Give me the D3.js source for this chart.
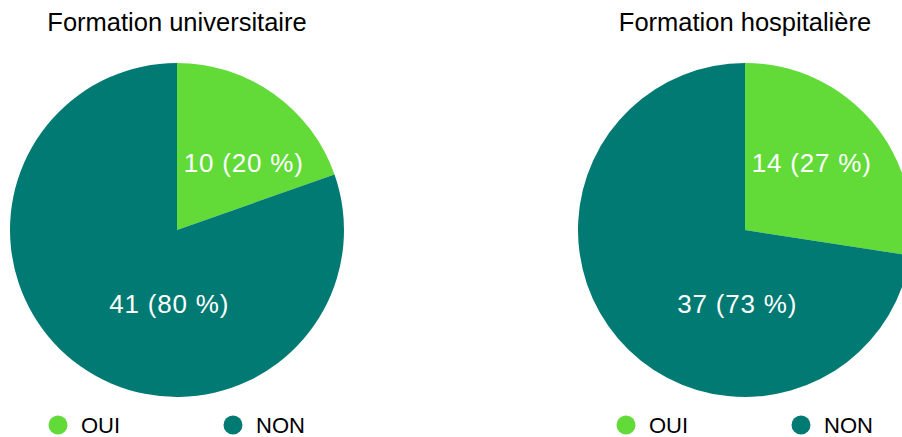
<!DOCTYPE html>
<html>
<head>
<meta charset="utf-8">
<script src="https://cdn.jsdelivr.net/npm/d3@7"></script>
<style>
  html, body { margin: 0; padding: 0; background: #fff; }
  svg { display: block; font-family: "Liberation Sans", Arial, Helvetica, sans-serif; }
</style>
</head>
<body>
<svg id="chart" width="902" height="437"></svg>
<script>
// Survey answers, one pie per question
const titles = ["Formation universitaire", "Formation hospitalière"];
const categories = ["OUI", "NON"];
const universitaire = [10, 41];
const hospitaliere = [14, 37];
const colors = ["#62da38", "#007a72"];

const seriesList = [universitaire, hospitaliere];

const svg = d3.select("#chart");
const radius = 167;
const centersX = [177, 745];
const centerY = 230;

const color = d3.scaleOrdinal().domain(categories).range(colors);
const pie = d3.pie().sort(null).value(d => d.value);
const arc = d3.arc().innerRadius(0).outerRadius(radius);

seriesList.forEach((series, i) => {
  const cx = centersX[i];
  const g = svg.append("g");

  // title
  g.append("text")
    .attr("x", cx)
    .attr("y", 31)
    .attr("text-anchor", "middle")
    .attr("font-size", 25.5)
    .attr("fill", "#000")
    .text(titles[i]);

  const data = categories.map((c, k) => ({ cat: c, value: series[k] }));
  const total = d3.sum(series);
  const arcs = pie(data);

  const pg = g.append("g").attr("transform", `translate(${cx},${centerY})`);
  pg.selectAll("path")
    .data(arcs)
    .join("path")
    .attr("d", arc)
    .attr("fill", d => color(d.data.cat));

  // value labels: minority slice towards its upper right, majority slice low and near the middle
  pg.selectAll("text.val")
    .data(arcs)
    .join("text")
    .attr("class", "val")
    .attr("text-anchor", "middle")
    .attr("dominant-baseline", "central")
    .attr("font-size", 26)
    .attr("letter-spacing", 0.8)
    .attr("fill", "#fff")
    .attr("transform", d => {
      const small = (d.endAngle - d.startAngle) < Math.PI;
      const a = small ? Math.PI / 4 : Math.PI * 186 / 180;
      const rr = small ? radius * 0.565 : radius * 0.447;
      return `translate(${rr * Math.sin(a)},${-rr * Math.cos(a)})`;
    })
    .text(d => `${d.data.value} (${Math.round(d.data.value / total * 100)} %)`);

  // legend
  const legendOffsets = [-119, 56];
  const lg = g.selectAll("g.leg")
    .data(categories)
    .join("g")
    .attr("class", "leg")
    .attr("transform", (c, k) => `translate(${cx + legendOffsets[k]},425)`);
  lg.append("circle").attr("r", 9.5).attr("fill", c => color(c));
  lg.append("text")
    .attr("x", 23)
    .attr("y", 7.5)
    .attr("font-size", 22)
    .attr("fill", "#000")
    .text(c => c);
});
</script>
</body>
</html>
